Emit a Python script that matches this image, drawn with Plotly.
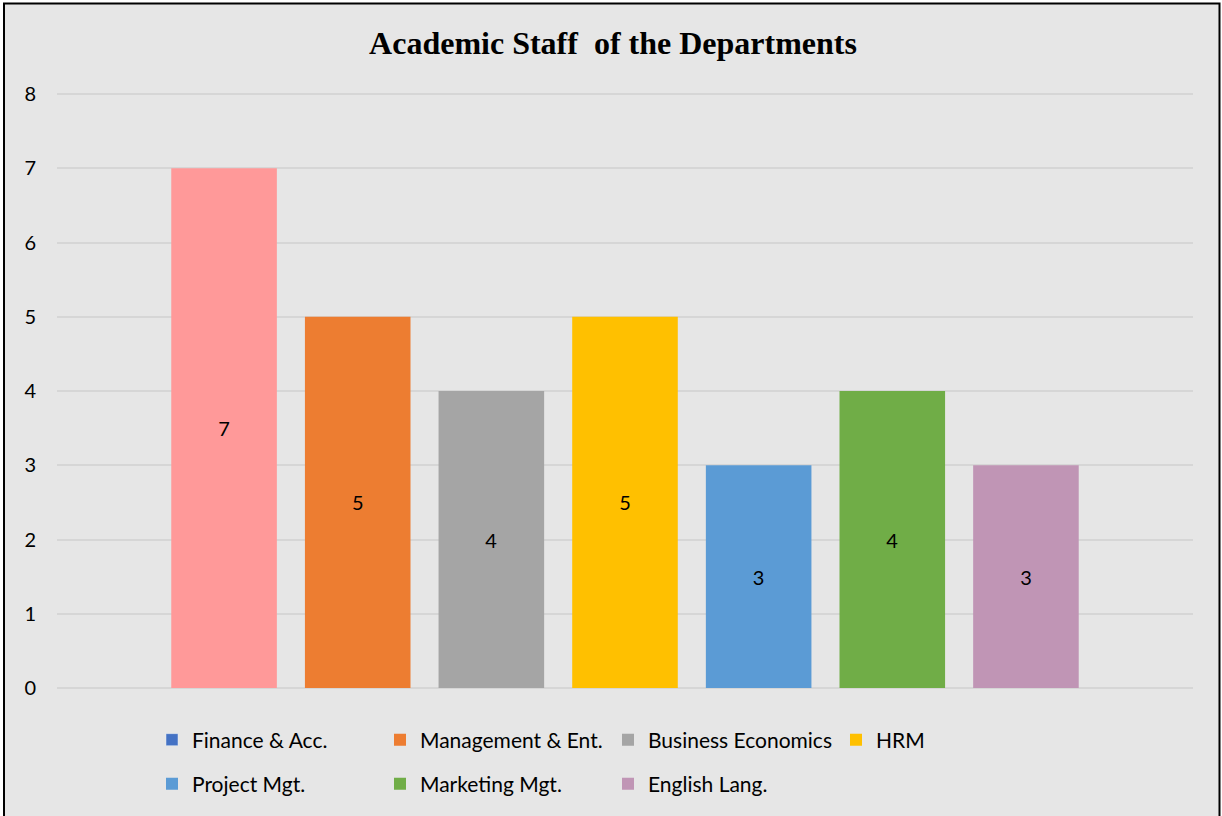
import plotly.graph_objects as go

departments = ["Finance & Acc.", "Management & Ent.", "Business Economics", "HRM",
               "Project Mgt.", "Marketing Mgt.", "English Lang."]
staff = [7, 5, 4, 5, 3, 4, 3]
bar_colors = ["#FF9999", "#ED7D31", "#A5A5A5", "#FFC000", "#5B9BD5", "#70AD47", "#C095B5"]
legend_colors = ["#4472C4", "#ED7D31", "#A5A5A5", "#FFC000", "#5B9BD5", "#70AD47", "#C095B5"]
y_ticks = [0, 1, 2, 3, 4, 5, 6, 7, 8]

W, H = 1222, 816
L, R, T, B = 57, 29, 92, 128
pw, ph = W - L - R, H - T - B

def px_x(p):
    return (p - L) / pw

def px_y(p):
    return (H - B - p) / ph

fig = go.Figure()
for i, (name, val) in enumerate(zip(departments, staff)):
    same = bar_colors[i] == legend_colors[i]
    leg = "legend" if i < 4 else "legend2"
    fig.add_trace(go.Bar(
        x=[name], y=[val], name=name,
        marker=dict(color=bar_colors[i], line=dict(width=0)),
        width=0.79,
        text=[str(val)], textposition="inside", insidetextanchor="middle",
        textfont=dict(color="black", size=20, family="Lato"),
        showlegend=same, legend=leg,
    ))
    if not same:
        fig.add_trace(go.Bar(
            x=[None], y=[None], name=name,
            marker=dict(color=legend_colors[i]),
            showlegend=True, legend=leg,
        ))

leg_common = dict(orientation="h", xanchor="left", yanchor="middle",
                  entrywidth=183, entrywidthmode="pixels", bgcolor="rgba(0,0,0,0)",
                  font=dict(family="Lato", size=21, color="black"), traceorder="normal")

fig.update_layout(
    width=W, height=H,
    margin=dict(l=L, r=R, t=T, b=B),
    paper_bgcolor="white",
    plot_bgcolor="rgba(0,0,0,0)",
    barmode="overlay",
    title=dict(text="<b>Academic Staff  of the Departments</b>",
               font=dict(family="Liberation Serif", size=32, color="black"),
               x=613 / W, xanchor="center", y=1 - 43 / H, yanchor="middle"),
    xaxis=dict(categoryorder="array", categoryarray=departments,
               range=[-1.25, 7.25], showticklabels=False, showgrid=False,
               zeroline=False, showline=False, ticks=""),
    yaxis=dict(range=[0, 8.027], tickvals=y_ticks, showgrid=True, gridcolor="#D6D6D6",
               gridwidth=2, zeroline=True, zerolinecolor="#D6D6D6", zerolinewidth=2,
               showline=False, ticks="", ticklabelstandoff=20,
               tickfont=dict(family="Lato", size=20, color="black")),
    legend=dict(x=px_x(152), y=px_y(740), **leg_common),
    legend2=dict(x=px_x(152), y=px_y(784), **leg_common),
    shapes=[dict(type="rect", xref="paper", yref="paper", layer="below",
                 x0=px_x(4), x1=px_x(1219.5), y0=px_y(830), y1=px_y(3.5),
                 fillcolor="#E6E6E6", line=dict(color="black", width=2))],
)

fig.write_html("out.html", config={"displayModeBar": False},
               post_script="document.body.style.margin='0';")
